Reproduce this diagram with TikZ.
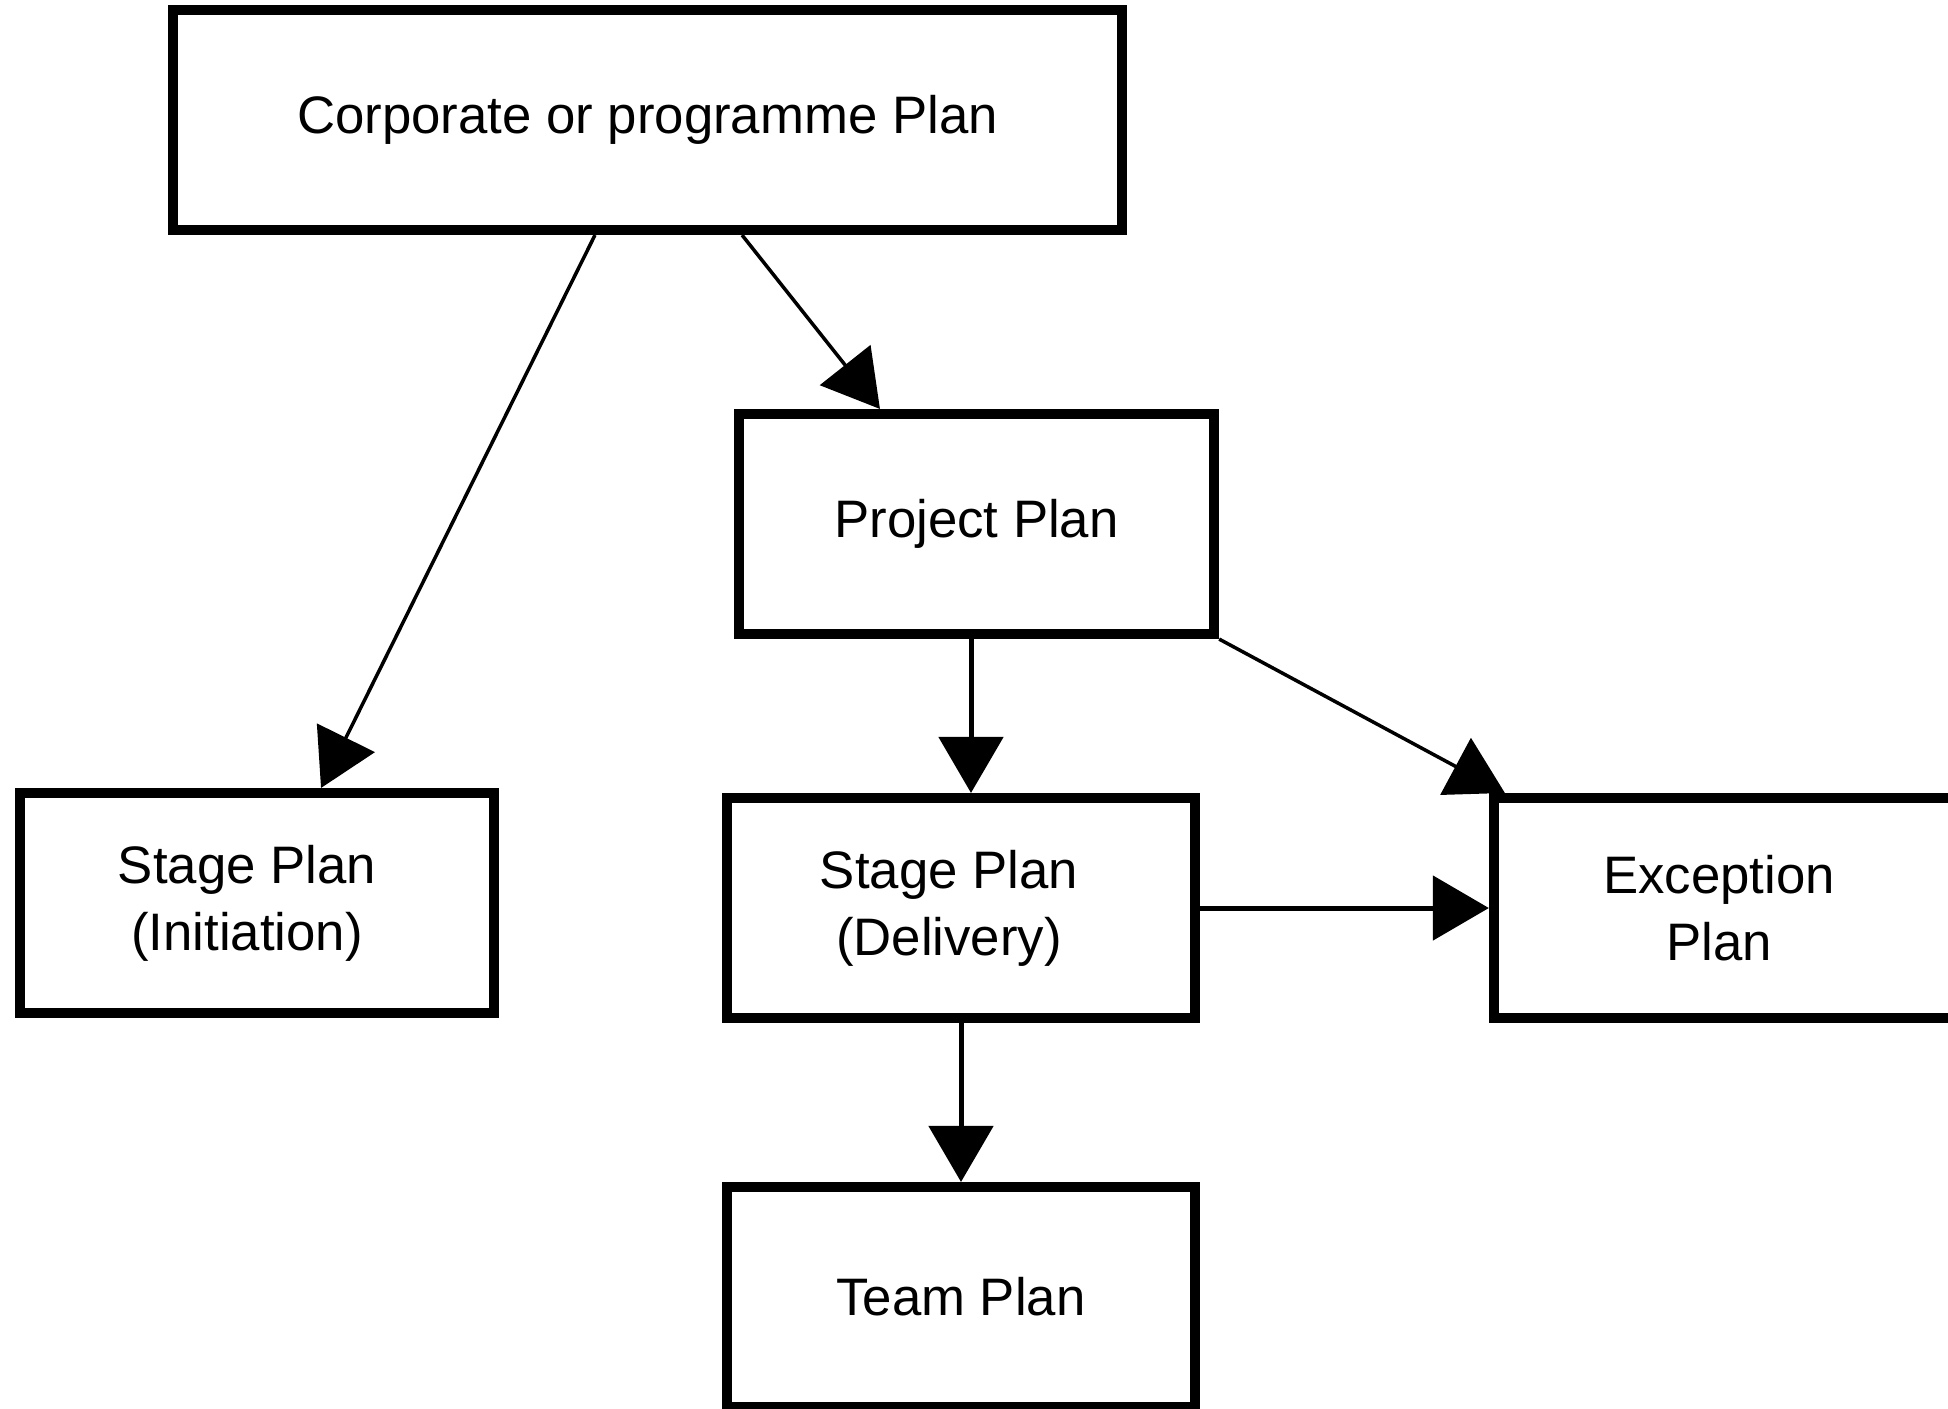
\documentclass[tikz,border=0pt]{standalone}
\usepackage{fontspec}
\setmainfont{Liberation Sans}
\usetikzlibrary{arrows.meta}
\begin{document}
\begin{tikzpicture}[x=0.01cm,y=-0.01cm,
  planbox/.style={draw=black,line width=0.1cm,fill=white,inner sep=0pt,
    minimum height=2.2cm,align=center,font=\fontsize{15}{19}\selectfont},
  conn/.style={draw=black,line width=0.05cm,
    -{Triangle[length=0.56cm,width=0.64cm]}},
  thinconn/.style={conn,line width=0.035cm}]
\useasboundingbox (0,0) rectangle (1948,1408);
\clip (0,0) rectangle (1948,1408);
\fill[white] (0,0) rectangle (1948,1408);

\node[planbox,minimum width=9.49cm] (corp) at (647.5,120) {Corporate or programme Plan};
\node[planbox,minimum width=4.75cm] (proj) at (976.5,524) {Project Plan};
\node[planbox,minimum width=4.74cm] (init) at (257,903) {\hspace*{-0.2cm}Stage Plan\\\hspace*{-0.2cm}(Initiation)};
\node[planbox,minimum width=4.68cm] (deliv) at (961,908) {\hspace*{-0.24cm}Stage Plan\\\hspace*{-0.24cm}(Delivery)};
\node[planbox,minimum width=4.80cm] (exc) at (1734,908) {\hspace*{-0.3cm}Exception\\\hspace*{-0.3cm}Plan};
\node[planbox,minimum width=4.68cm] (team) at (961,1297) {Team Plan};

\draw[thinconn] ([xshift=-0.525cm]corp.south) -- ([xshift=0.64cm]init.north);
\draw[thinconn] ([xshift=0.945cm]corp.south) -- ([xshift=-0.965cm]proj.north);
\draw[conn] ([xshift=-0.055cm]proj.south) -- ([xshift=-0.055cm]proj.south |- deliv.north);
\draw[thinconn] (proj.south east) -- ([xshift=0.16cm]exc.north west);
\draw[conn] (deliv.east) -- (exc.west);
\draw[conn] (deliv.south) -- (team.north);
\end{tikzpicture}
\end{document}
